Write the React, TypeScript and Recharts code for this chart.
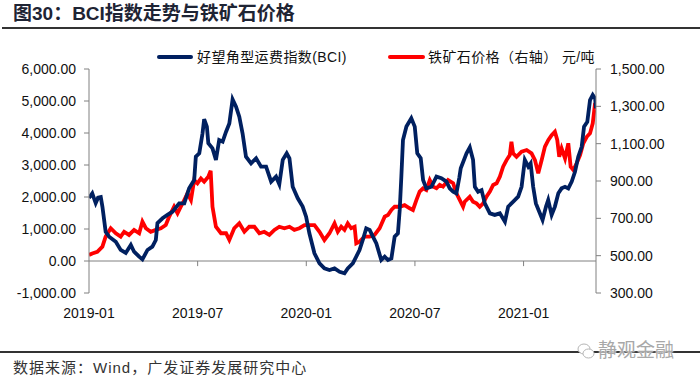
import { Legend, Line, LineChart, ReferenceLine, XAxis, YAxis } from "recharts";

// month index from 2019-01 (0) to ~2021-05 (28)
const bciT = [
  0, 0.18, 0.37, 0.5, 0.65, 0.74, 0.92, 1.11, 1.48, 1.75, 2.03, 2.31, 2.49, 2.77, 2.95, 3.23, 3.5, 3.69, 3.78,
  4.06, 4.33, 4.61, 4.98, 5.26, 5.53, 5.81, 5.9, 6.09, 6.27, 6.36, 6.51, 6.59, 6.82, 7.01, 7.19, 7.38, 7.57,
  7.75, 7.93, 8.12, 8.3, 8.48, 8.67, 8.95, 9.23, 9.5, 9.78, 10.06, 10.33, 10.51, 10.7, 10.92, 11.07, 11.25,
  11.53, 11.8, 11.99, 12.17, 12.45, 12.73, 13.0, 13.28, 13.56, 13.84, 14.11, 14.29, 14.57, 14.76, 14.94,
  15.12, 15.31, 15.5, 15.68, 15.87, 16.14, 16.33, 16.51, 16.7, 16.88, 17.06, 17.16, 17.25, 17.34, 17.53,
  17.8, 17.99, 18.13, 18.32, 18.45, 18.63, 18.91, 19.19, 19.46, 19.74, 19.92, 20.11, 20.29, 20.45, 20.53,
  20.85, 21.03, 21.21, 21.31, 21.49, 21.68, 21.86, 22.14, 22.41, 22.69, 22.97, 23.15, 23.43, 23.7, 23.89,
  24.07, 24.26, 24.39, 24.53, 24.68, 24.9, 25.05, 25.24, 25.36, 25.55, 25.73, 25.92, 26.1, 26.29, 26.47,
  26.66, 26.84, 27.02, 27.21, 27.34, 27.52, 27.67, 27.82, 27.95, 28.0,
];
const bciV = [
  1970, 2115, 1810, 1980, 2000, 1700, 915, 760, 600, 345, 250, 500, 290, 135, 50, 345, 450, 655, 1180,
  1335, 1440, 1540, 1800, 1800, 2270, 2530, 3260, 3365, 3990, 4430, 4200, 3680, 3520, 3160, 3780, 3730, 4040,
  4300, 5050, 4820, 4510, 3990, 3260, 3050, 3210, 2950, 2950, 2480, 2635, 2400, 3160, 3365, 3210, 2320,
  1960, 1700, 1385, 865, 240, -75, -230, -280, -230, -335, -385, -230, -75, 135, 345,
  655, 1020, 970, 760, 550, 30, 135, 30, 80, 760, 865, 1595, 2635, 3780, 4200,
  4460, 4200, 3365, 3210, 2530, 2270, 2320, 2635, 2585, 2480, 2270, 2165, 2115, 2600, 2900,
  3365, 3550, 3160, 2320, 2165, 2215, 1800, 1490, 1440, 1490, 1230, 1700, 1855, 2010, 2320,
  3160, 2950, 3050, 2320, 1800, 1490, 1280, 1700, 1905, 1440, 1700, 2115, 2270, 2320, 2270,
  2480, 2790, 3260, 3570, 4200, 4350, 5030, 5190, 5080, 4770,
];

const oreT = [
  0, 0.18, 0.46, 0.74, 0.92, 1.2, 1.48, 1.75, 1.94, 2.21, 2.49, 2.77, 2.95, 3.14, 3.41, 3.69, 3.97, 4.24,
  4.43, 4.7, 4.89, 5.07, 5.26, 5.44, 5.63, 5.81, 5.99, 6.18, 6.36, 6.59, 6.72, 6.82, 7.01, 7.29, 7.57, 7.75,
  8.02, 8.3, 8.58, 8.85, 9.13, 9.41, 9.68, 9.96, 10.24, 10.51, 10.79, 11.07, 11.34, 11.62, 11.9, 12.17,
  12.45, 12.73, 13.0, 13.28, 13.56, 13.74, 13.93, 14.11, 14.29, 14.48, 14.67, 14.76, 14.94, 15.22, 15.5,
  15.77, 16.05, 16.33, 16.51, 16.7, 16.88, 17.16, 17.43, 17.71, 17.89, 18.08, 18.26, 18.45, 18.63, 18.82,
  19.0, 19.19, 19.37, 19.55, 19.83, 20.11, 20.29, 20.48, 20.66, 20.75, 21.03, 21.21, 21.4, 21.58, 21.77,
  21.95, 22.14, 22.32, 22.51, 22.69, 22.87, 23.06, 23.24, 23.33, 23.42, 23.61, 23.89, 24.17, 24.44, 24.63,
  24.81, 25.0, 25.18, 25.37, 25.55, 25.73, 25.86, 25.97, 26.1, 26.29, 26.47, 26.6, 26.75, 26.93, 27.12,
  27.3, 27.49, 27.67, 27.82, 27.95, 28.0,
];
const oreV = [
  504, 512, 521, 548, 602, 647, 620, 602, 628, 611, 638, 620, 682, 647, 628, 638, 647, 664,
  709, 762, 727, 762, 798, 834, 798, 905, 888, 914, 896, 923, 955, 762, 655, 620, 620, 584,
  647, 673, 628, 655, 655, 620, 628, 611, 638, 655, 647, 655, 638, 647, 664, 664,
  664, 628, 584, 620, 673, 628, 655, 638, 673, 647, 655, 566, 575, 602, 602,
  611, 647, 709, 718, 745, 762, 762, 771, 754, 745, 798, 843, 861, 852, 905,
  870, 861, 879, 870, 905, 888, 834, 798, 762, 789, 816, 789, 780, 762, 780,
  816, 843, 879, 888, 923, 977, 1012, 1039, 1110, 1048, 1030, 1057, 1066, 1048, 1012,
  941, 1012, 1084, 1120, 1146, 1164, 1120, 1030, 1075, 1021, 1102, 977, 959, 995, 1039,
  1102, 1137, 1155, 1209, 1318, 1285,
];

const xTicks = [0, 6, 12, 18, 24];
const xLabels = ["2019-01", "2019-07", "2020-01", "2020-07", "2021-01"];
const leftTicks = [-1000, 0, 1000, 2000, 3000, 4000, 5000, 6000];
const rightTicks = [300, 500, 700, 900, 1100, 1300, 1500];

const bciData = bciT.map((t, i) => ({ t, bci: bciV[i] }));
const oreData = oreT.map((t, i) => ({ t, ore: oreV[i] }));

const NAVY = "#002060";
const RED = "#ff0000";
const AXIS = "#808080";
const tickStyle = { fontSize: 14, fill: "#111", fontFamily: "Liberation Sans, Arial, sans-serif" };
const fmt = (v: number) => v.toLocaleString("en-US", { minimumFractionDigits: 2, maximumFractionDigits: 2 });
const cjk = "'Liberation Sans', 'Noto Sans CJK SC', sans-serif";

const LegendBox = () => (
  <div style={{ position: "relative", width: 700, height: 20, fontFamily: cjk, fontSize: 14, color: "#111" }}>
    <span style={{ position: "absolute", left: 157, top: 8, width: 36, height: 4, background: NAVY, borderRadius: 2 }} />
    <span style={{ position: "absolute", left: 197, top: 0, lineHeight: "20px", whiteSpace: "nowrap", letterSpacing: 0.4 }}>好望角型运费指数(BCI)</span>
    <span style={{ position: "absolute", left: 388, top: 8, width: 37, height: 4, background: RED, borderRadius: 2 }} />
    <span style={{ position: "absolute", left: 428, top: 0, lineHeight: "20px", whiteSpace: "nowrap", letterSpacing: 0.4 }}>铁矿石价格（右轴） 元/吨</span>
  </div>
);

export default function App() {
  return (
    <div style={{ position: "absolute", left: 0, top: 0, width: 700, height: 381, background: "#fff", overflow: "hidden" }}>
      <div style={{ position: "absolute", left: 13, top: 2, fontFamily: cjk, fontWeight: 700, fontSize: 19, lineHeight: "23px", color: "#1e2434", whiteSpace: "nowrap" }}>
        图30：BCI指数走势与铁矿石价格
      </div>
      <div style={{ position: "absolute", left: 2, top: 27, width: 698, height: 2, background: "#333" }} />

      <div style={{ position: "absolute", left: 0, top: 0 }}>
        <LineChart width={700} height={340} margin={{ top: 69, right: 0, bottom: 17, left: 0 }}>
          <XAxis
            xAxisId="x"
            dataKey="t"
            type="number"
            domain={[0, 28]}
            ticks={xTicks}
            tickFormatter={(v: number) => xLabels[xTicks.indexOf(v)] ?? ""}
            axisLine={false}
            tickLine={false}
            tickMargin={9}
            tick={tickStyle}
            height={30}
            allowDataOverflow
            interval={0}
          />
          <YAxis
            yAxisId="left"
            domain={[-1000, 6000]}
            ticks={leftTicks}
            tickFormatter={fmt}
            width={89}
            tick={tickStyle}
            tickSize={5}
            tickMargin={8}
            axisLine={{ stroke: AXIS }}
            tickLine={{ stroke: AXIS }}
            interval={0}
          />
          <YAxis
            yAxisId="right"
            orientation="right"
            domain={[300, 1500]}
            ticks={rightTicks}
            tickFormatter={fmt}
            width={104}
            tick={tickStyle}
            tickSize={5}
            tickMargin={9}
            axisLine={{ stroke: AXIS }}
            tickLine={{ stroke: AXIS }}
            interval={0}
          />
          <ReferenceLine xAxisId="x" yAxisId="left" y={0} stroke={AXIS} strokeWidth={1} ifOverflow="extendDomain" />
          {xTicks.slice(1).map((t) => (
            <ReferenceLine
              key={t}
              xAxisId="x"
              yAxisId="left"
              segment={[{ x: t, y: 0 }, { x: t, y: -160 }]}
              stroke={AXIS}
            />
          ))}
          <Line
            xAxisId="x"
            yAxisId="right"
            data={oreData}
            dataKey="ore"
            type="linear"
            stroke={RED}
            strokeWidth={3.8}
            dot={false}
            isAnimationActive={false}
          />
          <Line
            xAxisId="x"
            yAxisId="left"
            data={bciData}
            dataKey="bci"
            type="linear"
            stroke={NAVY}
            strokeWidth={3.8}
            dot={false}
            isAnimationActive={false}
          />
          <Legend
            layout="horizontal"
            verticalAlign="middle"
            align="center"
            content={() => <LegendBox />}
            wrapperStyle={{ position: "absolute", top: 47, left: 0, width: 700 }}
          />
        </LineChart>
      </div>

      <div style={{ position: "absolute", left: 0, top: 351, width: 700, height: 2, background: "#333" }} />
      <div style={{ position: "absolute", left: 13, top: 358, fontFamily: cjk, fontSize: 15, letterSpacing: 1, lineHeight: "20px", color: "#333", whiteSpace: "nowrap" }}>
        数据来源：Wind，广发证券发展研究中心
      </div>
      <div style={{ position: "absolute", left: 577, top: 340, display: "flex", alignItems: "center", gap: 3, color: "#a8a8a8", fontFamily: cjk, fontSize: 19, lineHeight: "22px", textShadow: "0 0 2px #fff, 0 0 2px #fff" }}>
        <svg width={18} height={18} viewBox="0 0 18 18">
          <ellipse cx={7} cy={7} rx={6} ry={5} fill="#fff" stroke="#b5b5b5" strokeWidth={1} />
          <ellipse cx={11.5} cy={11.5} rx={5.5} ry={4.5} fill="#fff" stroke="#b5b5b5" strokeWidth={1} />
        </svg>
        <span>静观金融</span>
      </div>
    </div>
  );
}
